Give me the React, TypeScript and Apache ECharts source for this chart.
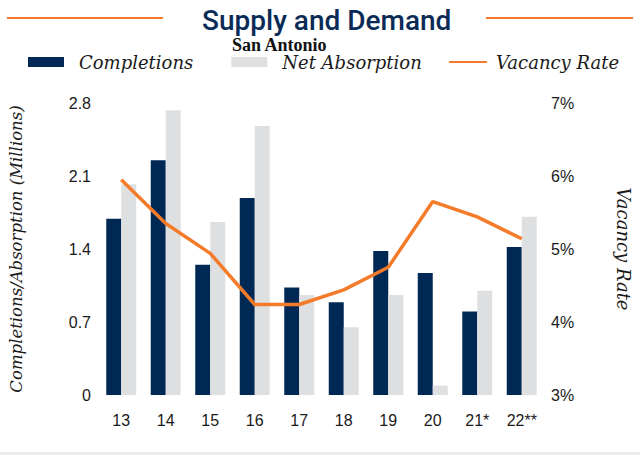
import React, { useEffect, useRef } from "react";
import * as echarts from "echarts";

const categories = ["13", "14", "15", "16", "17", "18", "19", "20", "21*", "22**"];
const completions = [1.69, 2.25, 1.25, 1.89, 1.03, 0.89, 1.38, 1.17, 0.8, 1.42];
const netAbsorption = [2.02, 2.73, 1.66, 2.58, 0.96, 0.65, 0.96, 0.09, 1.0, 1.71];
const vacancyRate = [5.95, 5.35, 4.94, 4.24, 4.24, 4.44, 4.75, 5.65, 5.44, 5.14];
const leftTicks = ["0", "0.7", "1.4", "2.1", "2.8"];
const rightTicks = ["3%", "4%", "5%", "6%", "7%"];

const NAVY = "#002855";
const GREY = "#DEDFE1";
const ORANGE = "#F47B2A";
const SERIF_IT = "DejaVu Serif";

const legendText = {
  fontFamily: SERIF_IT,
  fontStyle: "italic",
  fontSize: 18,
  color: "#1a1a1a",
  padding: [0, 0, 0, 10],
};

export default function App() {
  const ref = useRef<HTMLDivElement>(null);
  useEffect(() => {
    if (!ref.current) return;
    const chart = echarts.init(ref.current, null, { renderer: "svg" });
    chart.setOption({
      animation: false,
      backgroundColor: "#ffffff",
      title: [
        {
          text: "Supply and Demand",
          left: 197,
          top: 1,
          textStyle: { fontFamily: "Roboto", fontWeight: 500, fontSize: 28, color: "#0B2B57" },
        },
        {
          text: "San Antonio",
          left: 227,
          top: 31,
          textStyle: { fontFamily: "Liberation Serif", fontWeight: "bold", fontSize: 18, color: "#111" },
        },
      ],
      graphic: [
        { type: "line", shape: { x1: 7, y1: 18, x2: 163, y2: 18 }, style: { stroke: ORANGE, lineWidth: 2 } },
        { type: "line", shape: { x1: 486, y1: 18, x2: 633, y2: 18 }, style: { stroke: ORANGE, lineWidth: 2 } },
        { type: "rect", shape: { x: 0, y: 452, width: 640, height: 3 }, style: { fill: "#ececec" } },
      ],
      legend: [
        {
          left: 28,
          top: 53,
          padding: 0,
          itemWidth: 36,
          itemHeight: 10,
          itemGap: 38,
          data: [
            { name: "Completions", icon: "rect" },
            { name: "Net Absorption", icon: "rect" },
          ],
          textStyle: legendText,
        },
        {
          left: 448,
          top: 53,
          padding: 0,
          itemWidth: 38,
          itemHeight: 10,
          data: [{ name: "Vacancy Rate", itemStyle: { opacity: 0 } }],
          textStyle: { ...legendText, padding: [0, 0, 0, 4] },
        },
      ],
      grid: { left: 99, right: 89, top: 103, bottom: 60 },
      xAxis: {
        type: "category",
        data: categories,
        axisLine: { show: false },
        axisTick: { show: false },
        axisLabel: { fontFamily: "Liberation Sans", fontSize: 16, color: "#1a1a1a", margin: 17 },
      },
      yAxis: [
        {
          type: "value",
          min: 0,
          max: 2.8,
          interval: 0.7,
          splitLine: { show: false },
          axisLine: { show: false },
          axisTick: { show: false },
          axisLabel: {
            fontFamily: "Liberation Sans",
            fontSize: 16,
            color: "#1a1a1a",
            margin: 8,
            formatter: (v: number) => leftTicks[Math.round(v / 0.7)] ?? String(v),
          },
          name: "Completions/Absorption (Millions)",
          nameLocation: "middle",
          nameGap: 74,
          nameTextStyle: { fontFamily: SERIF_IT, fontStyle: "italic", fontSize: 16.5, color: "#1a1a1a" },
        },
        {
          type: "value",
          min: 3,
          max: 7,
          interval: 1,
          position: "right",
          splitLine: { show: false },
          axisLine: { show: false },
          axisTick: { show: false },
          axisLabel: {
            fontFamily: "Liberation Sans",
            fontSize: 16,
            color: "#1a1a1a",
            margin: 7,
            formatter: (v: number) => rightTicks[Math.round(v - 3)] ?? String(v),
          },
          name: "Vacancy Rate",
          nameLocation: "middle",
          nameRotate: -90,
          nameGap: 70,
          nameTextStyle: { fontFamily: SERIF_IT, fontStyle: "italic", fontSize: 18, color: "#1a1a1a" },
        },
      ],
      series: [
        {
          name: "Completions",
          type: "bar",
          data: completions,
          barWidth: 15,
          barGap: "0%",
          itemStyle: { color: NAVY },
        },
        {
          name: "Net Absorption",
          type: "bar",
          data: netAbsorption,
          barWidth: 15,
          barGap: "0%",
          itemStyle: { color: GREY },
        },
        {
          name: "Vacancy Rate",
          type: "line",
          yAxisIndex: 1,
          data: vacancyRate,
          symbol: "none",
          lineStyle: { color: ORANGE, width: 3.5 },
          itemStyle: { color: ORANGE },
        },
      ],
    });
    return () => chart.dispose();
  }, []);
  return (
    <div
      ref={ref}
      style={{ position: "fixed", left: 0, top: 0, width: 640, height: 455 }}
    />
  );
}
